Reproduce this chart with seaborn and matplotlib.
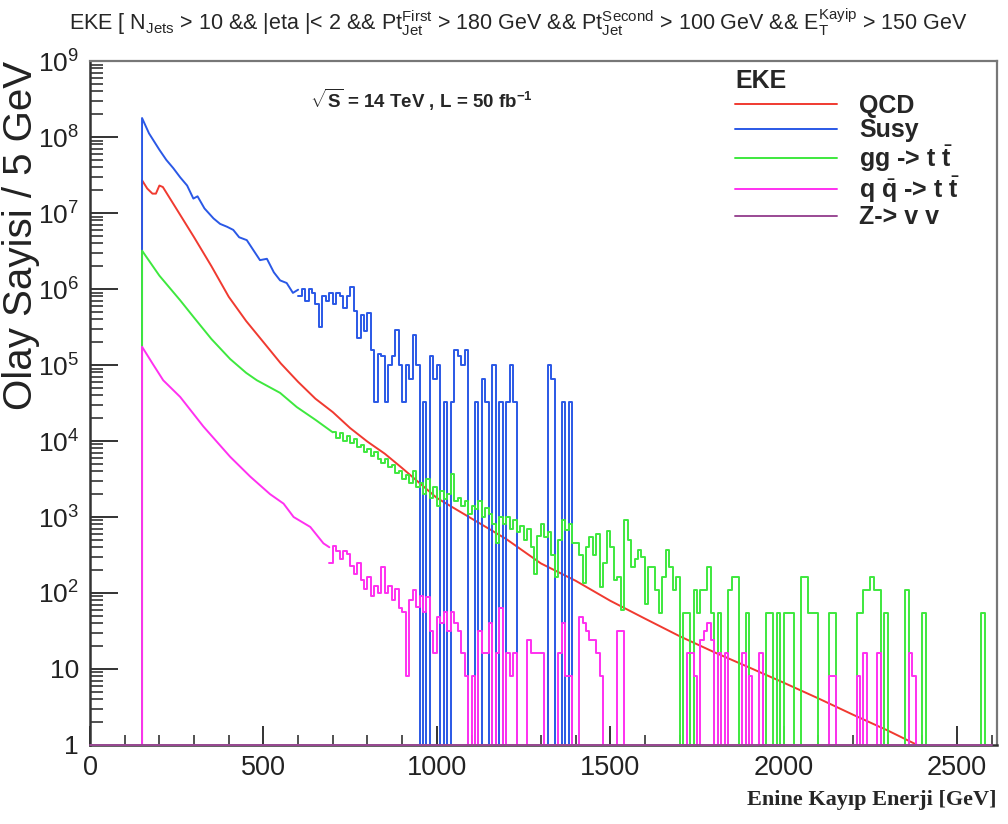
"""
Missing transverse energy (EKE) spectra for QCD, Susy and background processes
Recreated as a ROOT-style log histogram with seaborn
"""

import numpy as np
import seaborn as sns
import matplotlib
matplotlib.use('Agg')
import matplotlib.pyplot as plt
from matplotlib.ticker import (LogLocator, FixedLocator, MultipleLocator,
                               FuncFormatter, NullFormatter)

# ---------------------------------------------------------------------------
# Data (events per 5 GeV)
# smooth parts: anchor points along the curve, noisy parts: 10 GeV bins
# ---------------------------------------------------------------------------
BIN = 10

qcd_x = [150, 150, 165, 180, 190, 200, 210, 250, 300, 350, 400, 450, 500, 550, 600,
         650, 700, 750, 800, 850, 900, 950, 1000, 1100, 1200, 1300, 1400, 1500, 1600,
         1700, 1800, 1900, 2000, 2100, 2200, 2300, 2385]
qcd_y = [0, 2.7e7, 2.1e7, 1.8e7, 1.8e7, 2.3e7, 2.2e7, 1.12e7, 4.8e6, 2.0e6, 7.9e5,
         3.8e5, 2.0e5, 1.05e5, 6.0e4, 3.6e4, 2.4e4, 1.48e4, 9.8e3, 6.8e3, 4.4e3, 2.8e3,
         1.78e3, 955, 513, 245, 145, 79, 46, 27, 16.6, 10.5, 6.6, 4.1, 2.5, 1.55, 1.0]

susy_x = [150, 150, 170, 200, 220, 240, 260, 280, 298, 310, 330, 356, 375, 395, 413,
          430, 452, 470, 490, 510, 530, 548, 567, 585, 600]
susy_y = [0, 1.78e8, 1.12e8, 6.8e7, 5.0e7, 3.9e7, 2.95e7, 2.3e7, 1.55e7, 1.66e7, 1.15e7,
          8.5e6, 7.2e6, 6.6e6, 6.0e6, 4.8e6, 4.4e6, 3.3e6, 2.4e6, 2.5e6, 1.66e6, 1.3e6,
          1.2e6, 8.9e5, 9.8e5]
susy_bin_start = 600
susy_counts = [8e5, 1e6, 7e5, 1e6, 9e5, 6.3e5, 3.2e5, 8e5, 7e5, 9e5,
               6.3e5, 9e5, 8e5, 5.6e5, 8e5, 1.07e6, 5.2e5, 2.3e5, 4.5e5, 2.8e5,
               4.8e5, 1.6e5, 3.3e4, 1.4e5, 1.3e5, 3.3e4, 1e5, 1.3e5, 2.9e5, 1e5,
               3.3e4, 1e5, 6.5e4, 2.5e5, 1e5, 0, 3.3e4, 0, 1.3e5, 6.5e4,
               1e5, 0, 3.3e4, 0, 3.3e4, 1.6e5, 1.3e5, 1e5, 1.6e5, 0,
               0, 3.3e4, 0, 6.5e4, 3.3e4, 0, 1e5, 0, 3.3e4, 0,
               3.3e4, 1e5, 3.3e4, 0, 0, 0, 0, 0, 0, 0,
               0, 0, 1e5, 6.5e4, 0, 0, 3.3e4, 0, 3.3e4, 0]

gg_x = [150, 150, 200, 260, 300, 350, 404, 450, 481, 548, 596, 650, 700]
gg_y = [0, 3.2e6, 1.5e6, 7.1e5, 4.2e5, 2.2e5, 1.2e5, 7.9e4, 6.3e4, 4.3e4, 2.8e4, 1.9e4, 1.3e4]
gg_bin_start = 700
gg_counts = [1.3e4, 1.1e4, 1.26e4, 1.0e4, 1.15e4, 9.5e3, 1.05e4, 8.3e3, 8.9e3, 7.1e3,
             7.9e3, 6.3e3, 7.1e3, 5.8e3, 5.2e3, 5.8e3, 4.5e3, 4.8e3, 3.8e3, 4.0e3,
             3.2e3, 3.6e3, 2.8e3, 4.0e3, 2.5e3, 2.8e3, 2.0e3, 3.2e3, 1.8e3, 2.5e3,
             1.4e3, 2.2e3, 1.7e3, 2.0e3, 3.7e3, 1.6e3, 1.8e3, 1.4e3, 1.6e3, 1.1e3,
             1.4e3, 1.26e3, 1.6e3, 1.0e3, 1.3e3, 1.1e3, 800, 450, 1.0e3, 800,
             1.0e3, 700, 900, 630, 760, 500, 700, 400, 180, 560,
             800, 550, 630, 320, 160, 500, 900, 680, 800, 450,
             450, 320, 135, 400, 550, 320, 600, 120, 250, 650,
             400, 150, 160, 60, 900, 500, 220, 280, 370, 300,
             72, 220, 220, 110, 54, 160, 370, 220, 110, 160,
             0, 54, 54, 0, 108, 54, 108, 108, 220, 54,
             0, 54, 0, 0, 108, 160, 160, 0, 0, 54,
             0, 0, 0, 0, 0, 54, 54, 0, 54, 0,
             54, 54, 54, 0, 0, 160, 160, 54, 54, 54,
             0, 0, 0, 54, 54, 0, 0, 0, 0, 0,
             0, 54, 54, 108, 108, 160, 108, 108, 0, 54,
             0, 0, 0, 0, 0, 108, 0, 0, 0, 0,
             54, 0, 0, 0, 0, 0, 0, 0, 0, 0,
             0, 0, 0, 0, 0, 0, 0, 54, 0, 0]

qq_x = [150, 150, 180, 211, 260, 327, 404, 462, 519, 558, 587, 635, 673, 690]
qq_y = [0, 1.74e5, 1.05e5, 6.3e4, 3.8e4, 1.55e4, 6.2e3, 3.4e3, 2.0e3, 1.5e3, 1.0e3, 740, 450, 400]
qq_bin_start = 690
qq_counts = [245, 410, 355, 280, 355, 330, 225, 180, 250, 150,
             112, 160, 90, 125, 100, 220, 100, 125, 80, 112,
             64, 56, 8, 80, 110, 66, 90, 56, 88, 32,
             16, 48, 40, 56, 32, 56, 40, 32, 16, 8,
             0, 8, 0, 32, 16, 16, 40, 0, 16, 64,
             0, 16, 8, 16, 0, 0, 0, 24, 16, 16,
             16, 16, 0, 0, 0, 0, 16, 40, 8, 8,
             0, 0, 48, 40, 32, 24, 24, 16, 8, 0,
             0, 0, 0, 32, 32, 0, 0, 0, 0, 0,
             0, 0, 0, 0, 0, 0, 0, 0, 0, 0,
             0, 0, 0, 16, 16, 8, 0, 24, 32, 40,
             24, 0, 16, 0, 16, 0, 0, 0, 0, 16,
             0, 8, 0, 0, 16, 0, 0, 0, 0, 0,
             0, 0, 0, 0, 0, 0, 0, 0, 0, 0,
             0, 0, 0, 0, 8, 8, 0, 0, 0, 0,
             0, 0, 8, 0, 16, 0, 0, 0, 16, 0,
             0, 0, 0, 0, 0, 0, 0, 16, 8, 0,
             0]

znn_x = [0, 2600]
znn_y = [1, 1]

labels = ['QCD', 'Susy', r'gg -> t $\bar{\mathbf{t}}$',
          r'q $\bar{\mathbf{q}}$ -> t $\bar{\mathbf{t}}$', 'Z-> v v']
colors = ['#f03a30', '#2a58e6', '#3ee83e', '#ff30f0', '#9a4a94']
y_decades = [1, 1e1, 1e2, 1e3, 1e4, 1e5, 1e6, 1e7, 1e8, 1e9]

LW = 1.4

# Configure plot style
sns.set_theme(style='white')
plt.rcParams['font.family'] = ['Liberation Sans', 'DejaVu Sans']
plt.rcParams['mathtext.fontset'] = 'custom'
plt.rcParams['mathtext.rm'] = 'Liberation Sans'
plt.rcParams['mathtext.it'] = 'Liberation Sans:italic'
plt.rcParams['mathtext.bf'] = 'Liberation Sans:bold'


def draw_smooth(ax, x, y, color, label):
    """Draw the smooth part of a histogram through its anchor points"""
    sns.lineplot(x=x, y=y, ax=ax, color=color, lw=LW, estimator=None,
                 sort=False, label=label)


def draw_steps(ax, start, counts, color):
    """Draw the noisy part of a histogram as fixed width bins"""
    edges = start + BIN * np.arange(len(counts) + 1)
    vals = list(counts) + [counts[-1]]
    sns.lineplot(x=edges, y=vals, ax=ax, color=color, lw=LW, estimator=None,
                 sort=False, drawstyle='steps-post')


def log_label(v, pos):
    """ROOT style labels: 1, 10, then powers of ten"""
    n = int(round(np.log10(v)))
    if n == 0:
        return '1'
    if n == 1:
        return '10'
    return r'$10^{%d}$' % n


fig = plt.figure(figsize=(10.08, 8.24), dpi=100)
ax = fig.add_axes([0.0893, 0.0959, 0.8998, 0.830])

draw_smooth(ax, qcd_x, qcd_y, colors[0], labels[0])
draw_smooth(ax, susy_x, susy_y, colors[1], labels[1])
draw_steps(ax, susy_bin_start, susy_counts, colors[1])
draw_smooth(ax, gg_x, gg_y, colors[2], labels[2])
draw_steps(ax, gg_bin_start, gg_counts, colors[2])
draw_smooth(ax, qq_x, qq_y, colors[3], labels[3])
draw_steps(ax, qq_bin_start, qq_counts, colors[3])
sns.lineplot(x=znn_x, y=znn_y, ax=ax, color=colors[4], lw=LW, estimator=None,
             sort=False, label=labels[4], clip_on=False, zorder=5)

ax.set_yscale('log')
ax.set_ylim(1, 1e9)
ax.set_xlim(0, 2615)
ax.set_xlabel('')
ax.set_ylabel('')

# ROOT style ticks
ax.yaxis.set_major_locator(FixedLocator(y_decades))
ax.yaxis.set_minor_locator(LogLocator(base=10, subs=np.arange(2, 10), numticks=12))
ax.yaxis.set_minor_formatter(NullFormatter())
ax.yaxis.set_major_formatter(FuncFormatter(log_label))
ax.xaxis.set_major_locator(MultipleLocator(500))
ax.xaxis.set_minor_locator(MultipleLocator(100))
ax.tick_params(axis='both', which='both', direction='in', left=True, bottom=True,
               top=False, right=False, color='#333333', labelcolor='#222222')
ax.tick_params(axis='y', which='major', length=20, width=1.4, labelsize=19, pad=8)
ax.tick_params(axis='y', which='minor', length=9.5, width=1.2)
ax.tick_params(axis='x', which='major', length=14, width=1.4, labelsize=19.5, pad=7)
ax.tick_params(axis='x', which='minor', length=7, width=1.2)

for side in ['left', 'bottom']:
    ax.spines[side].set_color('#333333')
    ax.spines[side].set_linewidth(1.8)
for side in ['top', 'right']:
    ax.spines[side].set_color('#777777')
    ax.spines[side].set_linewidth(1.6)

# Legend
handles, labs = ax.get_legend_handles_labels()
leg = ax.legend(handles, labs, title='EKE', loc='upper left', bbox_to_anchor=(0.711, 0.988),
                frameon=False, prop={'weight': 'bold', 'size': 18},
                title_fontproperties={'weight': 'bold', 'size': 18}, alignment='left',
                handlelength=4.1, handletextpad=0.88, labelspacing=0.02,
                borderaxespad=0, borderpad=0)

# Texts
ax.text(0.243, 0.943, r'$\sqrt{\mathbf{S}}$ = 14 TeV , L = 50 fb$^{\mathbf{-1}}$',
        transform=ax.transAxes, fontsize=13.5, fontweight='bold', ha='left', va='center')

title = (r'EKE [ N$_{\mathrm{Jets}}$ > 10 && |eta |< 2 && Pt$^{\mathrm{First}}_{\mathrm{Jet}}$ > 180 GeV && '
         r'Pt$^{\mathrm{Second}}_{\mathrm{Jet}}$ > 100 GeV && E$^{\mathrm{Kayip}}_{\mathrm{T}}$ > 150 GeV')
fig.text(0.514, 0.973, title, ha='center', va='center', fontsize=15.5)

fig.text(0.021, 0.926, 'Olay Sayisi / 5 GeV', rotation=90, ha='center', va='top',
         fontsize=29, color='#222222')
fig.text(0.989, 0.029, 'Enine Kayıp Enerji [GeV]', ha='right', va='center',
         fontsize=16, fontweight='bold', family=['Liberation Serif', 'DejaVu Serif'])

fig.savefig('out.png', dpi=100, facecolor='white')
